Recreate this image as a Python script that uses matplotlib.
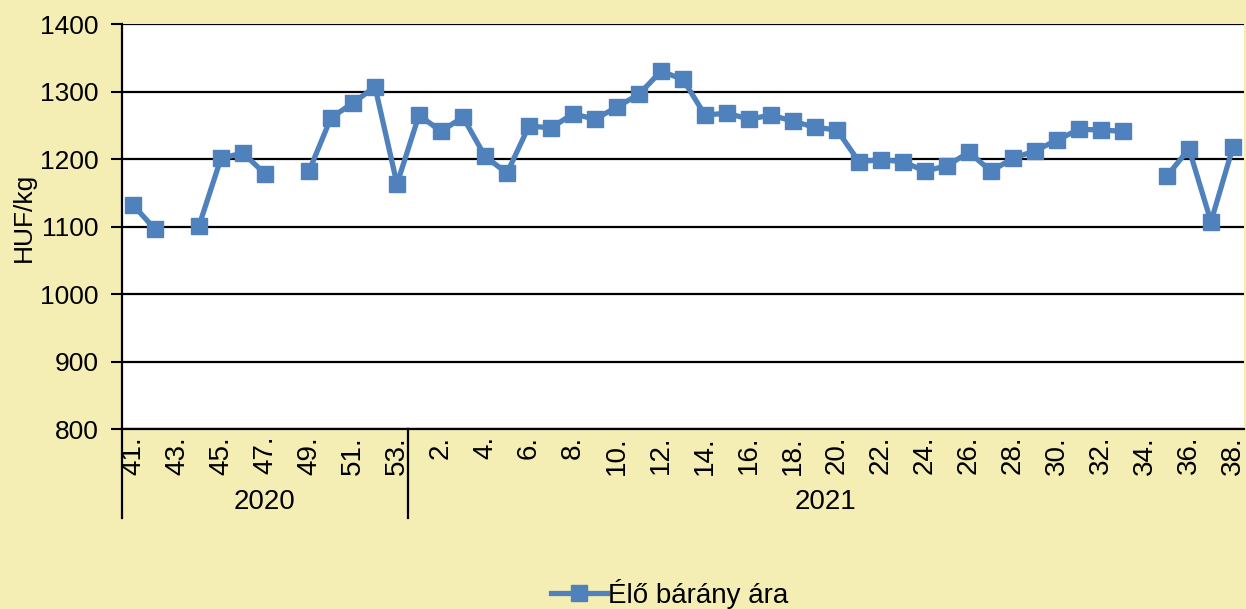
import numpy as np
import matplotlib
matplotlib.use("Agg")
import matplotlib.pyplot as plt
import matplotlib.transforms as mtransforms

# Weekly live lamb price, HUF/kg (NaN = no quotation that week)
weeks_2020 = [41, 42, 43, 44, 45, 46, 47, 48, 49, 50, 51, 52, 53]
price_2020 = [1132, 1096, np.nan, 1101, 1201, 1209, 1178, np.nan, 1182, 1261, 1283, 1307, 1163]

weeks_2021 = list(range(1, 39))
price_2021 = [1265, 1241, 1262, 1204, 1179, 1249, 1246, 1267, 1259, 1277,
              1296, 1330, 1318, 1265, 1268, 1259, 1265, 1256, 1247, 1243,
              1196, 1199, 1196, 1182, 1190, 1210, 1182, 1201, 1212, 1228,
              1244, 1243, 1241, np.nan, 1175, 1215, 1107, 1218]

years = ["2020", "2021"]
series_name = "Élő bárány ára"
y_label = "HUF/kg"
y_ticks = [800, 900, 1000, 1100, 1200, 1300, 1400]

bg = "#F5EEB4"
blue = "#4F81BD"
fs = 20
fs_y = 19

week_labels = [f"{w}." for w in weeks_2020] + [f"{w}." for w in weeks_2021]
values = price_2020 + price_2021
x = np.arange(len(values))

plt.rcParams["font.family"] = ["Liberation Sans", "DejaVu Sans"]

W, H = 1246, 609
fig = plt.figure(figsize=(W / 100, H / 100), dpi=100, facecolor=bg)
ax = fig.add_axes([122 / W, 1 - 429 / H, (1244 - 122) / W, (429 - 24) / H])
ax.set_facecolor("white")

ax.set_ylim(800, 1400)
ax.set_xlim(-0.5, len(values) - 0.5)
ax.set_yticks(y_ticks)
ax.set_yticklabels([str(t) for t in y_ticks], fontsize=fs_y)
ax.yaxis.grid(True, color="black", linewidth=1.6)
ax.set_axisbelow(True)
ax.tick_params(axis="y", length=8, width=1.5, color="black", pad=9)

# every other week label, rotated
ax.set_xticks(x[::2])
ax.set_xticklabels(week_labels[::2], rotation=90, fontsize=fs)
ax.tick_params(axis="x", length=0, pad=5)

for side in ["top", "right"]:
    ax.spines[side].set_visible(False)
for side in ["left", "bottom"]:
    ax.spines[side].set_color("black")
    ax.spines[side].set_linewidth(1.6)

fig.text(24 / W, 1 - 217 / H, y_label, rotation=90, ha="center", va="center",
         fontsize=fs_y)

line, = ax.plot(x, values, color=blue, linewidth=3.8, marker="s",
                markersize=11, markerfacecolor=blue, markeredgecolor=blue,
                label=series_name)

# year grouping: separators and centred year labels below the week labels
trans = mtransforms.blended_transform_factory(ax.transData, ax.transAxes)
n20 = len(weeks_2020)
for xb in [-0.5, n20 - 0.5]:
    ax.plot([xb, xb], [0, -0.22], transform=trans, color="black",
            linewidth=1.6, clip_on=False)
ax.text((-0.5 + n20 - 0.5) / 2, -0.18, years[0], transform=trans,
        ha="center", va="center", fontsize=fs)
ax.text((n20 - 0.5 + len(values) - 0.5) / 2, -0.18, years[1], transform=trans,
        ha="center", va="center", fontsize=fs)

fig.legend(handles=[line], loc="center", bbox_to_anchor=(670 / W, 1 - 594 / H),
           frameon=False, fontsize=fs, handlelength=2.0, handletextpad=0.05,
           borderpad=0.1)

fig.savefig("out.png", dpi=100, facecolor=bg)
